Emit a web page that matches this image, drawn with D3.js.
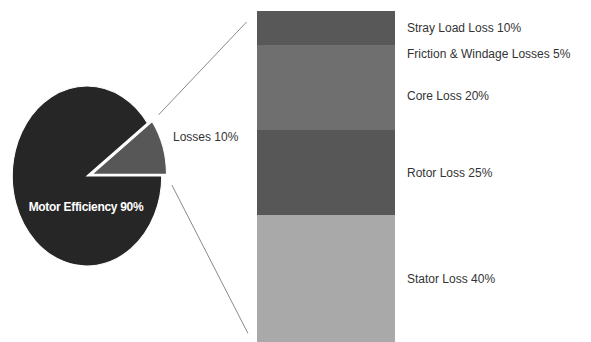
<!DOCTYPE html>
<html>
<head>
<meta charset="utf-8">
<script src="https://cdn.jsdelivr.net/npm/d3@7"></script>
<style>
  body { margin: 0; background: #fff; }
  svg { display: block; font-family: "Liberation Sans", Arial, sans-serif; }
</style>
</head>
<body>
<svg id="chart" width="591" height="342"></svg>
<script>
// pie: efficiency vs losses
var pieLabels = ["Motor Efficiency 90%", "Losses 10%"];
var pieValues = [90, 10];
var pieColors = ["#262626", "#575757"];

// bar: breakdown of the losses (top to bottom)
var lossLabels = ["Stray Load Loss 10%", "Friction & Windage Losses 5%", "Core Loss 20%", "Rotor Loss 25%", "Stator Loss 40%"];
var lossValues = [10, 5, 20, 25, 40];
var lossColors = ["#585858", "#6f6f6f", "#6f6f6f", "#575757", "#a9a9a9"];

var W = 591, H = 342;
var svg = d3.select("#chart");

// pie geometry
var cx = 87, cy = 176, r = 90, sx = 0.83, explode = 5;

var pie = d3.pie().sort(null).startAngle(Math.PI / 2).endAngle(Math.PI / 2 + 2 * Math.PI);
var arcs = pie(pieValues);
var arc = d3.arc().innerRadius(0).outerRadius(r);

function offsetOf(d, i) {
    if (i == 0) return [0, 0];
    var mid = (d.startAngle + d.endAngle) / 2;
    return [Math.sin(mid) * explode / sx, -Math.cos(mid) * explode];
}

var gPie = svg.append("g")
    .attr("transform", `translate(${cx},${cy}) scale(${sx},1)`);

gPie.selectAll("path")
    .data(arcs)
    .join("path")
    .attr("d", arc)
    .attr("transform", (d, i) => `translate(${offsetOf(d, i)})`)
    .attr("fill", (d, i) => pieColors[i])
    .attr("stroke", "#fff")
    .attr("stroke-width", 1.2);

// point on the (scaled) ellipse in page coords
function piePoint(angle, i) {
    var o = offsetOf(arcs[i], i);
    return [cx + (Math.sin(angle) * r + o[0]) * sx, cy - Math.cos(angle) * r + o[1]];
}

// bar
var barX0 = 257, barX1 = 395;
var y = d3.scaleLinear().domain([0, 100]).range([11, 351]);
var cum = d3.cumsum(lossValues);
var segs = lossValues.map((v, i) => ({ label: lossLabels[i], v: v, start: cum[i] - v, end: cum[i], color: lossColors[i] }));

svg.append("g")
    .selectAll("rect")
    .data(segs)
    .join("rect")
    .attr("x", barX0)
    .attr("width", barX1 - barX0)
    .attr("y", d => y(d.start))
    .attr("height", d => y(d.end) - y(d.start))
    .attr("fill", d => d.color);

svg.append("g")
    .selectAll("text")
    .data(segs)
    .join("text")
    .attr("x", 407)
    .attr("y", d => (y(d.start) + Math.min(y(d.end), H)) / 2 + 4)
    .attr("fill", "#333")
    .style("font-size", "12px")
    .text(d => d.label);

// connector lines from the losses slice to the bar
var los = arcs[1];
var corners = [
    [piePoint(los.startAngle, 1), [barX0, y(0)]],
    [piePoint(los.endAngle, 1), [barX0, y(100)]]
];
svg.append("g")
    .selectAll("line")
    .data(corners)
    .join("line")
    .attr("x1", d => d[0][0] + 0.06 * (d[1][0] - d[0][0]))
    .attr("y1", d => d[0][1] + 0.06 * (d[1][1] - d[0][1]))
    .attr("x2", d => d[0][0] + 0.9 * (d[1][0] - d[0][0]))
    .attr("y2", d => d[0][1] + 0.9 * (d[1][1] - d[0][1]))
    .attr("stroke", "#8a8a8a")
    .attr("stroke-width", 1);

// pie labels
svg.append("text")
    .attr("x", cx - 1)
    .attr("y", 211)
    .attr("text-anchor", "middle")
    .attr("fill", "#fff")
    .style("font-size", "12px")
    .style("font-weight", 700)
    .style("letter-spacing", "-0.3px")
    .text(pieLabels[0]);

svg.append("text")
    .attr("x", 173)
    .attr("y", 141)
    .attr("fill", "#333")
    .style("font-size", "12px")
    .text(pieLabels[1]);
</script>
</body>
</html>
